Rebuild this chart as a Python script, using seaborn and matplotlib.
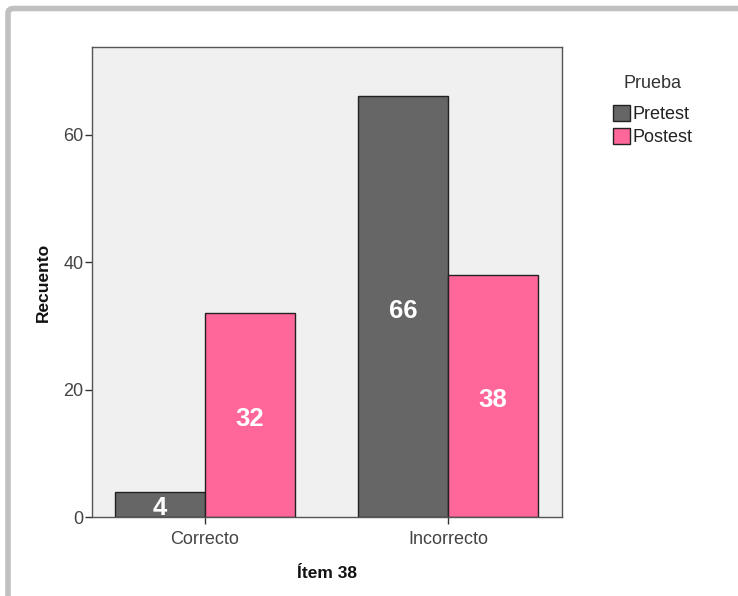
import matplotlib
matplotlib.use("Agg")
import matplotlib.pyplot as plt
import seaborn as sns
import pandas as pd
from matplotlib.patches import FancyBboxPatch, Patch

categories = ["Correcto", "Incorrecto"]
groups = ["Pretest", "Postest"]
pretest = [4, 66]
postest = [32, 38]
colors = ["#666666", "#ff6699"]

df = pd.DataFrame({
    "item": categories * 2,
    "prueba": [groups[0]] * 2 + [groups[1]] * 2,
    "count": pretest + postest,
})

sns.set_theme(style="white")
plt.rcParams["font.family"] = ["Liberation Sans", "DejaVu Sans"]

fig = plt.figure(figsize=(7.38, 5.96), dpi=100)
ax = fig.add_axes([92/738, 1-517/596, 470/738, 470/596])
ax.set_facecolor("#f0f0f0")

sns.barplot(data=df, x="item", y="count", hue="prueba", order=categories,
            hue_order=groups, palette=colors, width=0.741, saturation=1,
            edgecolor="#222222", linewidth=1.0, ax=ax, legend=False)

for cont in ax.containers:
    for bar in cont:
        h = bar.get_height()
        ax.annotate(f"{int(h)}", (bar.get_x() + bar.get_width()/2, h/2),
                    xytext=(0, -3), textcoords="offset points",
                    ha="center", va="center", color="white",
                    fontsize=18.5, fontweight="bold")

ax.set_xlim(-0.465, 1.469)
ax.set_ylim(0, 73.75)
ax.set_yticks([0, 20, 40, 60])
ax.tick_params(axis="both", direction="out", length=5, width=1,
               color="#333333", labelsize=13, labelcolor="#444444",
               left=True, bottom=True)
ax.tick_params(axis="x", pad=5)
ax.tick_params(axis="y", pad=1)
for s in ax.spines.values():
    s.set_color("#555555")
    s.set_linewidth(1.0)
ax.set_xlabel("Ítem 38", fontsize=12.5, fontweight="bold", color="#111111", labelpad=13)
ax.set_ylabel("Recuento", fontsize=12.5, fontweight="bold", color="#111111", labelpad=9)

handles = [Patch(facecolor=c, edgecolor="#222222", label=g) for c, g in zip(colors, groups)]
leg = fig.legend(handles=handles, title="Prueba", loc="upper left",
                 bbox_to_anchor=(604/738, 1-66/596), frameon=False,
                 fontsize=13, title_fontsize=13, handlelength=0.95,
                 handleheight=1.0, handletextpad=0.15, labelspacing=0.3,
                 borderpad=0)
leg._legend_box.sep = 9
leg.get_title().set_color("#333333")
for t in leg.get_texts():
    t.set_color("#222222")

frame = FancyBboxPatch((8/738, -0.1), 1.2, 1 - 8.5/596 + 0.1,
                       boxstyle="round,pad=0,rounding_size=0.008",
                       transform=fig.transFigure, facecolor="none",
                       edgecolor="#c0c0c0", linewidth=4, zorder=0)
fig.patches.append(frame)

fig.savefig("out.png", dpi=100, facecolor="white")
